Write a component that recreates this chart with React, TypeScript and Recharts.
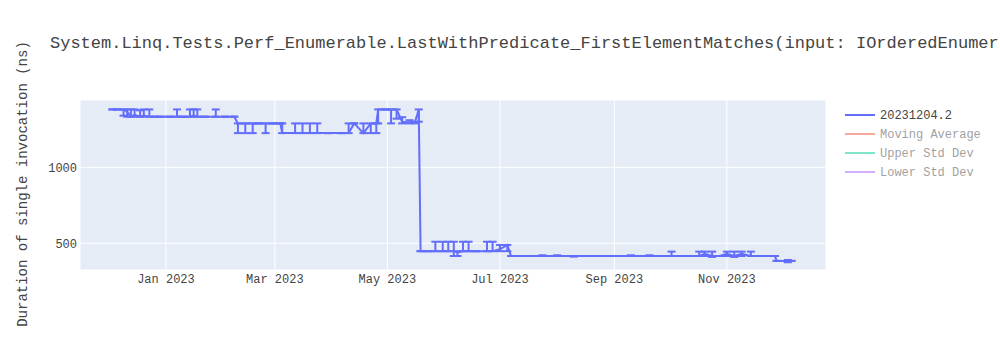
import { ComposedChart, Line, ErrorBar, XAxis, YAxis, CartesianGrid } from 'recharts';

const dates = [
  '2022-12-03', '2022-12-06', '2022-12-09', '2022-12-11', '2022-12-13', '2022-12-15', '2022-12-18', '2022-12-20',
  '2022-12-23', '2022-12-26', '2022-12-29', '2023-01-03', '2023-01-07', '2023-01-10', '2023-01-14', '2023-01-16',
  '2023-01-18', '2023-01-22', '2023-01-28', '2023-02-02', '2023-02-07', '2023-02-09', '2023-02-13', '2023-02-17',
  '2023-02-20', '2023-02-24', '2023-02-28', '2023-03-04', '2023-03-05', '2023-03-12', '2023-03-16', '2023-03-20',
  '2023-03-24', '2023-03-30', '2023-04-06', '2023-04-10', '2023-04-13', '2023-04-18', '2023-04-22', '2023-04-25',
  '2023-04-26', '2023-04-30', '2023-05-03', '2023-05-06', '2023-05-09', '2023-05-13', '2023-05-16', '2023-05-18',
  '2023-05-19', '2023-05-23', '2023-05-27', '2023-05-31', '2023-06-03', '2023-06-06', '2023-06-08', '2023-06-11',
  '2023-06-14', '2023-06-18', '2023-06-24', '2023-06-27', '2023-07-01', '2023-07-05', '2023-07-07', '2023-07-15',
  '2023-07-24', '2023-08-01', '2023-08-10', '2023-08-20', '2023-09-01', '2023-09-10', '2023-09-20', '2023-09-26',
  '2023-10-02', '2023-10-08', '2023-10-17', '2023-10-20', '2023-10-24', '2023-10-28', '2023-11-01', '2023-11-05',
  '2023-11-09', '2023-11-14', '2023-11-20', '2023-11-27', '2023-11-28', '2023-12-04', '2023-12-06',
];

// duration in ns
const values = [
  1381, 1381, 1381, 1365, 1333, 1345, 1333, 1340,
  1333, 1333, 1333, 1333, 1333, 1333, 1333, 1340,
  1333, 1333, 1333, 1333, 1333, 1289, 1289, 1289,
  1289, 1289, 1289, 1289, 1225, 1225, 1225, 1225,
  1225, 1225, 1225, 1225, 1289, 1225, 1289, 1289,
  1381, 1381, 1381, 1381, 1300, 1295, 1300, 1381,
  448, 448, 448, 448, 448, 448, 440, 448,
  448, 448, 448, 448, 460, 489, 416, 416,
  416, 416, 416, 416, 416, 416, 416, 416,
  416, 416, 416, 430, 416, 416, 430, 416,
  430, 416, 416, 416, 384, 384, 384,
];

const lows = [
  1381, 1381, 1340, 1333, 1333, 1333, 1333, 1333,
  1333, 1333, 1333, 1333, 1333, 1333, 1333, 1333,
  1333, 1333, 1333, 1333, 1333, 1225, 1225, 1225,
  1289, 1225, 1289, 1289, 1225, 1225, 1225, 1225,
  1225, 1225, 1225, 1225, 1289, 1225, 1225, 1225,
  1289, 1381, 1289, 1320, 1289, 1289, 1289, 1300,
  448, 448, 448, 448, 448, 416, 416, 448,
  448, 448, 448, 448, 448, 448, 416, 416,
  416, 416, 412, 416, 416, 416, 416, 416,
  416, 416, 416, 416, 410, 416, 416, 410,
  416, 416, 416, 416, 384, 375, 384,
];

const highs = [
  1381, 1381, 1381, 1381, 1381, 1381, 1375, 1381,
  1381, 1333, 1333, 1333, 1381, 1333, 1381, 1381,
  1381, 1333, 1381, 1333, 1333, 1289, 1289, 1289,
  1289, 1289, 1289, 1289, 1289, 1289, 1289, 1289,
  1289, 1225, 1225, 1289, 1289, 1289, 1289, 1289,
  1381, 1381, 1381, 1381, 1330, 1310, 1300, 1381,
  448, 448, 510, 510, 510, 510, 448, 510,
  510, 448, 510, 510, 489, 489, 416, 416,
  421, 421, 416, 416, 416, 421, 421, 416,
  445, 416, 445, 445, 445, 416, 445, 445,
  445, 445, 416, 416, 384, 390, 384,
];

const xTicks = ['2023-01-01', '2023-03-01', '2023-05-01', '2023-07-01', '2023-09-01', '2023-11-01'];
const yTicks = [500, 1000];
const monthNames = ['Jan', 'Feb', 'Mar', 'Apr', 'May', 'Jun', 'Jul', 'Aug', 'Sep', 'Oct', 'Nov', 'Dec'];

const legendItems = [
  { name: '20231204.2', color: '#636efa', off: false },
  { name: 'Moving Average', color: '#ef553b', off: true },
  { name: 'Upper Std Dev', color: '#00cc96', off: true },
  { name: 'Lower Std Dev', color: '#ab63fa', off: true },
];

// the reference cuts the title at the right edge of the page
const title = 'System.Linq.Tests.Perf_Enumerable.LastWithPredicate_FirstElementMatches(input: IOrderedEnumer';
const font = '"Courier New", "Liberation Mono", monospace';

const data = dates.map((d, i) => ({
  t: new Date(d).getTime(),
  v: values[i],
  err: [values[i] - lows[i], highs[i] - values[i]],
}));

const xDomain = [Date.UTC(2022, 10, 15, 10), Date.UTC(2023, 11, 24, 17)];

function fmtDate(t: number) {
  const d = new Date(t);
  return `${monthNames[d.getUTCMonth()]} ${d.getUTCFullYear()}`;
}

export default function App() {
  return (
    <div style={{ position: 'absolute', left: 0, top: 0, width: 1000, height: 350, background: '#fff', fontFamily: font }}>
      <ComposedChart width={1000} height={350} data={data} margin={{ top: 100, right: 174, bottom: 50, left: 20 }}>
        <CartesianGrid fill="#e5ecf6" stroke="#fff" strokeWidth={1} fillOpacity={1} />
        <XAxis
          dataKey="t"
          type="number"
          scale="time"
          domain={xDomain}
          allowDataOverflow
          ticks={xTicks.map((d) => new Date(d).getTime())}
          tickFormatter={fmtDate}
          axisLine={false}
          tickLine={false}
          tickSize={0}
          tickMargin={4}
          height={30}
          tick={{ fontSize: 12, fill: '#444', fontFamily: font }}
        />
        <YAxis
          type="number"
          domain={[324, 1443]}
          allowDataOverflow
          ticks={yTicks}
          axisLine={false}
          tickLine={false}
          tickSize={0}
          tickMargin={3}
          width={60}
          tick={{ fontSize: 12, fill: '#444', fontFamily: font }}
        />
        <Line dataKey="v" stroke="#636efa" strokeWidth={2} dot={false} type="linear" isAnimationActive={false}>
          <ErrorBar dataKey="err" direction="y" width={4} stroke="#636efa" strokeWidth={2} isAnimationActive={false} />
        </Line>
      </ComposedChart>
      <svg width={1000} height={350} style={{ position: 'absolute', left: 0, top: 0, pointerEvents: 'none' }}>
        <text x={50} y={48} fontSize={17} fill="#444" fontFamily={font}>{title}</text>
        <text x={27} y={184} fontSize={14} fill="#444" fontFamily={font} textAnchor="middle" transform="rotate(-90, 27, 184)">
          Duration of single invocation (ns)
        </text>
        {legendItems.map((it, i) => (
          <g key={it.name} opacity={it.off ? 0.5 : 1}>
            <line x1={845} x2={875} y1={115 + i * 19} y2={115 + i * 19} stroke={it.color} strokeWidth={2} />
            <text x={880} y={115 + i * 19} dy="0.35em" fontSize={12} fill="#444" fontFamily={font}>{it.name}</text>
          </g>
        ))}
      </svg>
    </div>
  );
}
